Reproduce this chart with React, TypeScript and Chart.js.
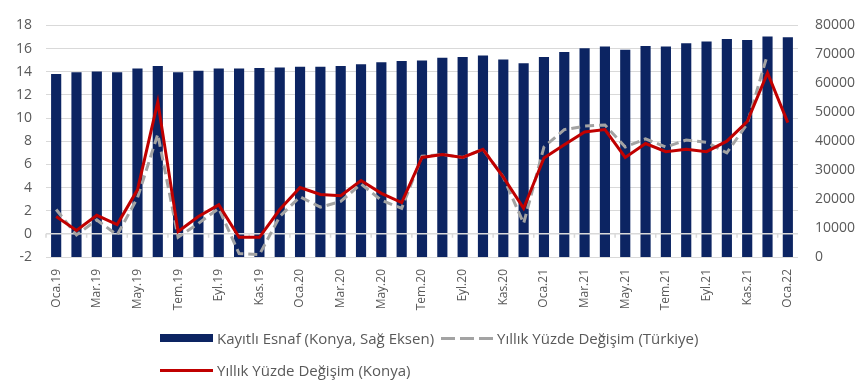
import React, { useEffect, useRef } from "react";
import { Chart, registerables } from "chart.js";

Chart.register(...registerables);

// Monthly categories, Jan 2019 – Jan 2022
const categories: string[] = [
  "Oca.19", "Şub.19", "Mar.19", "Nis.19", "May.19", "Haz.19", "Tem.19", "Ağu.19", "Eyl.19", "Eki.19", "Kas.19", "Ara.19",
  "Oca.20", "Şub.20", "Mar.20", "Nis.20", "May.20", "Haz.20", "Tem.20", "Ağu.20", "Eyl.20", "Eki.20", "Kas.20", "Ara.20",
  "Oca.21", "Şub.21", "Mar.21", "Nis.21", "May.21", "Haz.21", "Tem.21", "Ağu.21", "Eyl.21", "Eki.21", "Kas.21", "Ara.21",
  "Oca.22",
];

// Registered tradesmen in Konya (right axis)
const kayitliEsnaf: number[] = [
  63200, 63800, 64100, 63800, 65100, 66000, 63800, 64300, 65100, 65100, 65300, 65500,
  65700, 65700, 66000, 66600, 67300, 67700, 67900, 68800, 69100, 69600, 68200, 66900,
  69100, 70800, 72100, 72700, 71600, 72900, 72700, 73800, 74400, 75300, 75000, 76200,
  75900,
];

// Annual % change, Türkiye (left axis)
const degisimTurkiye: (number | null)[] = [
  2.1, -0.1, 1.2, -0.1, 3.1, 8.6, -0.3, 0.9, 2.2, -1.7, -1.8, 1.5,
  3.2, 2.3, 2.8, 4.3, 2.9, 2.2, 6.7, 6.85, 6.6, 7.3, 4.9, 0.9,
  7.5, 9.0, 9.3, 9.4, 7.5, 8.2, 7.5, 8.1, 7.9, 7.0, 9.5, 15.5,
  null,
];

// Annual % change, Konya (left axis)
const degisimKonya: number[] = [
  1.5, 0.3, 1.6, 0.8, 3.8, 11.4, 0.2, 1.5, 2.5, -0.3, -0.3, 2.1,
  4.0, 3.4, 3.3, 4.6, 3.5, 2.7, 6.6, 6.85, 6.6, 7.3, 4.9, 2.2,
  6.55, 7.7, 8.8, 9.0, 6.6, 7.8, 7.1, 7.3, 7.1, 8.0, 9.7, 13.9,
  9.6,
];

const NAVY = "#0c2462";
const RED = "#c00000";
const GREY = "#a3a3a3";
const TEXT = "#595959";
const GRID = "#d9d9d9";
const FONT = "'Open Sans', 'Liberation Sans', sans-serif";

// Light zero line across the bars, with small marks under it every two months
const zeroLinePlugin = {
  id: "zeroLine",
  afterDatasetDraw(chart: any, args: any) {
    if (args.index !== 0) return;
    const { ctx, chartArea, scales } = chart;
    const y = scales.y.getPixelForValue(0);
    ctx.save();
    ctx.strokeStyle = GRID;
    ctx.lineWidth = 1.5;
    ctx.beginPath();
    ctx.moveTo(chartArea.left, y);
    ctx.lineTo(chartArea.right, y);
    const step = (chartArea.right - chartArea.left) / categories.length;
    for (let k = 0; k <= categories.length; k += 2) {
      const x = chartArea.left + k * step;
      ctx.moveTo(x, y);
      ctx.lineTo(x, y + 4);
    }
    ctx.stroke();
    ctx.restore();
  },
};

export default function App() {
  const canvasRef = useRef<HTMLCanvasElement | null>(null);

  useEffect(() => {
    document.body.style.margin = "0";
    const canvas = canvasRef.current;
    if (!canvas) return;
    const chart = new Chart(canvas, {
      type: "bar",
      data: {
        labels: categories,
        datasets: [
          {
            type: "bar",
            label: "Kayıtlı Esnaf (Konya, Sağ Eksen)",
            data: kayitliEsnaf,
            backgroundColor: NAVY,
            yAxisID: "y1",
            barPercentage: 0.5,
            categoryPercentage: 1,
            order: 3,
          },
          {
            type: "line",
            label: "Yıllık Yüzde Değişim (Türkiye)",
            data: degisimTurkiye,
            borderColor: GREY,
            borderWidth: 3,
            borderDash: [9, 5],
            pointRadius: 0,
            tension: 0,
            yAxisID: "y",
            order: 2,
          },
          {
            type: "line",
            label: "Yıllık Yüzde Değişim (Konya)",
            data: degisimKonya,
            borderColor: RED,
            borderWidth: 3,
            pointRadius: 0,
            tension: 0,
            yAxisID: "y",
            order: 1,
          },
        ],
      },
      options: {
        responsive: false,
        animation: false,
        layout: { padding: { top: 18, left: 0, right: 0, bottom: 0 } },
        plugins: {
          legend: { display: false },
          tooltip: { enabled: false },
        },
        scales: {
          x: {
            grid: { display: false, drawTicks: false },
            border: { display: false },
            ticks: {
              autoSkip: false,
              maxRotation: 90,
              minRotation: 90,
              padding: 12,
              color: TEXT,
              font: { family: FONT, size: 12 },
              callback: (_v: any, i: number) => (i % 2 === 0 ? categories[i] : ""),
            },
            afterFit: (scale: any) => {
              scale.height = 124;
            },
          },
          y: {
            position: "left",
            min: -2,
            max: 18,
            grid: { color: GRID, lineWidth: 1, drawTicks: false },
            border: { display: false },
            ticks: {
              stepSize: 2,
              padding: 14,
              color: TEXT,
              font: { family: FONT, size: 14 },
            },
            afterFit: (scale: any) => {
              scale.width = 46;
            },
          },
          y1: {
            position: "right",
            min: 0,
            max: 80000,
            grid: { display: false, drawTicks: false },
            border: { display: false },
            ticks: {
              stepSize: 10000,
              padding: 17,
              color: TEXT,
              font: { family: FONT, size: 14 },
              callback: (v: any) => String(v),
            },
            afterFit: (scale: any) => {
              scale.width = 61;
            },
          },
        },
      },
      plugins: [zeroLinePlugin],
    });
    return () => chart.destroy();
  }, []);

  const legendText: React.CSSProperties = {
    position: "absolute",
    fontFamily: FONT,
    fontSize: 15,
    color: TEXT,
    lineHeight: "20px",
    whiteSpace: "nowrap",
  };

  return (
    <div style={{ position: "relative", width: 859, height: 381, background: "#fff" }}>
      <canvas ref={canvasRef} width={859} height={381} />
      <div style={{ position: "absolute", left: 160, top: 334, width: 53, height: 8, background: NAVY }} />
      <span style={{ ...legendText, left: 217, top: 328 }}>Kayıtlı Esnaf (Konya, Sağ Eksen)</span>
      {[0, 19, 38].map((dx) => (
        <div
          key={dx}
          style={{ position: "absolute", left: 441 + dx, top: 337, width: 14, height: 3, background: GREY }}
        />
      ))}
      <span style={{ ...legendText, left: 497, top: 328 }}>Yıllık Yüzde Değişim (Türkiye)</span>
      <div style={{ position: "absolute", left: 160, top: 369, width: 53, height: 3, background: RED }} />
      <span style={{ ...legendText, left: 217, top: 360 }}>Yıllık Yüzde Değişim (Konya)</span>
    </div>
  );
}
